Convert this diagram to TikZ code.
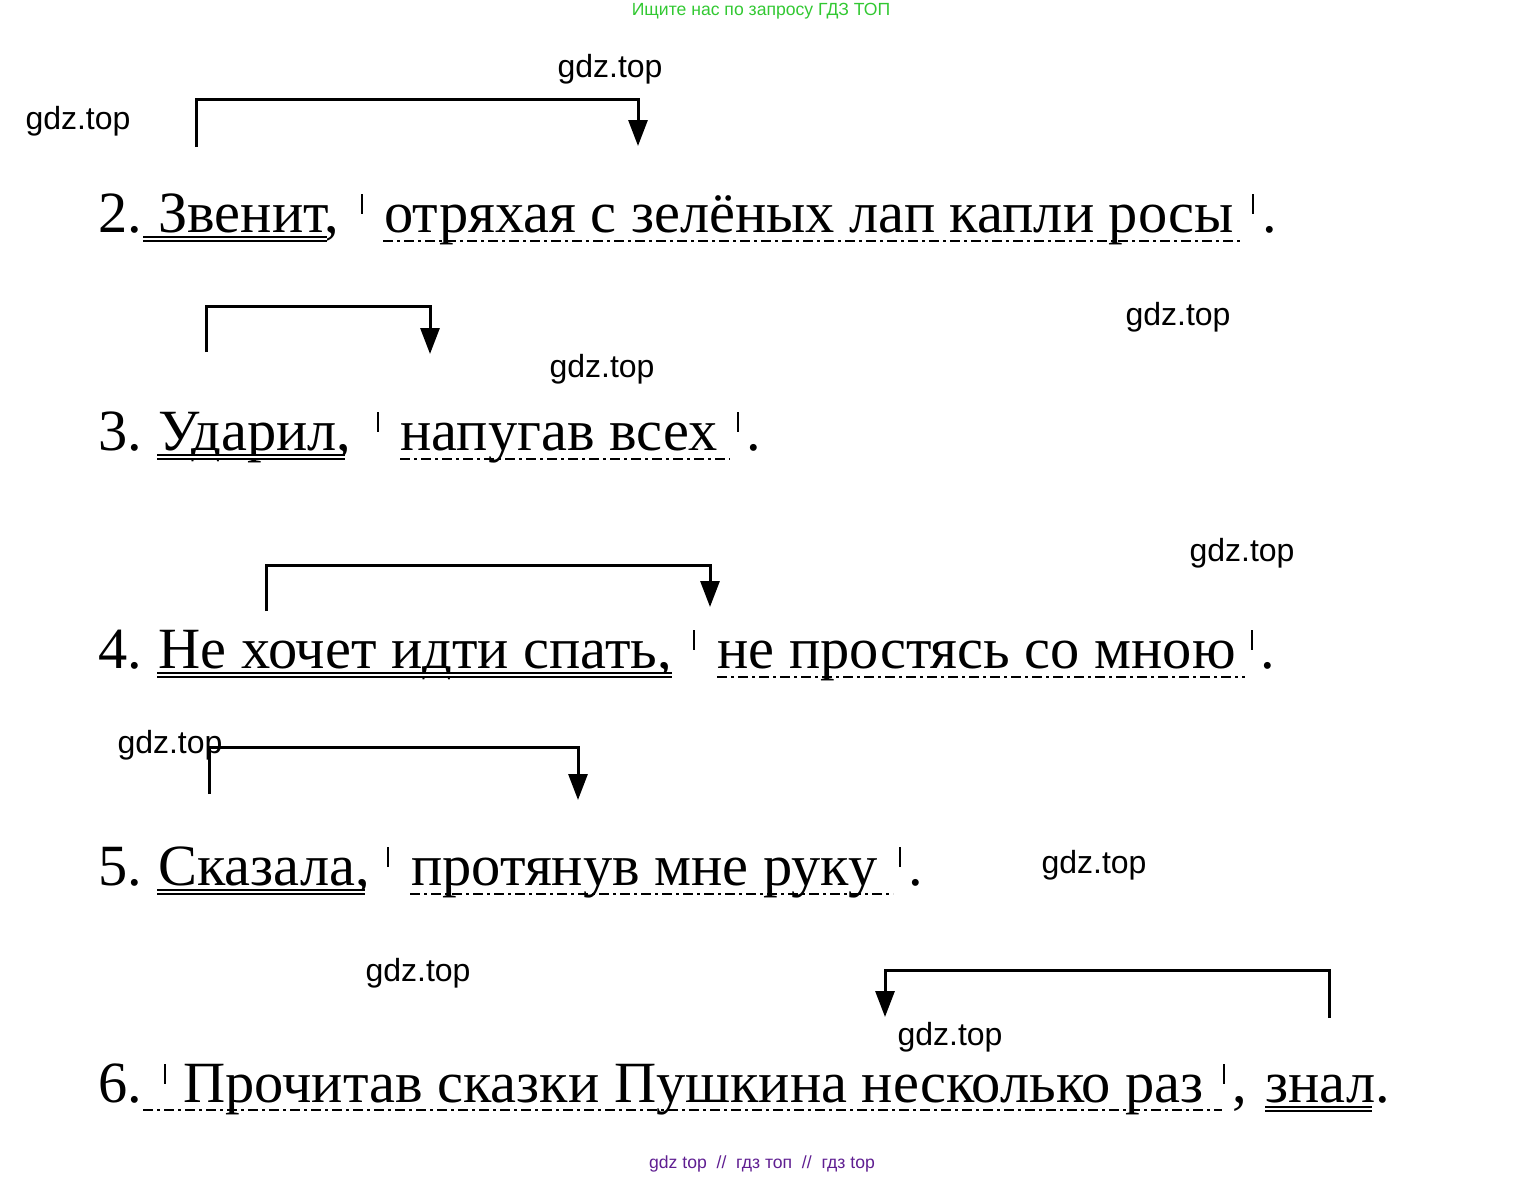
\documentclass[tikz,border=0pt]{standalone}
\usepackage{fontspec}
\setmainfont{Liberation Serif}
\newfontfamily\wmfont{Liberation Sans}
\usetikzlibrary{arrows.meta}
\definecolor{wmgreen}{RGB}{50,200,50}
\definecolor{wmpurple}{RGB}{95,30,145}
\tikzset{
  sent/.style={anchor=base west,inner sep=0pt,font=\fontsize{29.2}{33}\selectfont},
  wmark/.style={inner sep=0pt,font=\wmfont\fontsize{16}{18}\selectfont},
  subj/.style={double,double distance=1pt,line width=.9pt},
  adv/.style={line width=1.4pt,dash pattern=on 5pt off 2pt on 1.5pt off 2pt},
  sep/.style={line width=.8pt},
  scheme/.style={line width=1.5pt,-{Triangle[length=13pt,width=9.5pt]}}
}
\begin{document}
\begin{tikzpicture}[x=.5pt,y=-.5pt]
\useasboundingbox (0,0) rectangle (1524,1178);
\node[inner sep=0pt,text=wmgreen,font=\wmfont\fontsize{8.8}{10}\selectfont] (top) at (761,11){Ищите нас по запросу ГДЗ ТОП};
\node[inner sep=0pt,text=wmpurple,font=\wmfont\fontsize{8.8}{10}\selectfont] (bot) at (762,1164){gdz top \ // \ гдз топ \ // \ гдз top};
\foreach \x/\y [count=\i] in {78/121,610/69,1178/317,602/369,1242/553,170/745,1094/865,418/973,950/1037}
  \node[wmark] (w\i) at (\x,\y){gdz.top};

% 2
\node[sent] (n2) at (98,232){2.};
\node[sent] (s2) at (158,232){Звенит,};
\node[sent] (a2) at (384,232){отряхая с зелёных лап капли росы};
\node[sent] (p2) at (1262,232){.};
\draw[subj] (143,239)--(327,239);
\draw[adv] (383,241)--(1243,241);
\draw[sep] (362,194)--(362,214);
\draw[sep] (1253,194)--(1253,214);
\coordinate (b2) at (196,147);
\coordinate (e2) at (638,146);
\draw[scheme] (b2)|-(e2 |- 0,99)--(e2);

% 3
\node[sent] (n3) at (98,450){3.};
\node[sent] (s3) at (158,450){Ударил,};
\node[sent] (a3) at (400,450){напугав всех};
\node[sent] (p3) at (746,450){.};
\draw[subj] (157,457)--(345,457);
\draw[adv] (400,459)--(730,459);
\draw[sep] (378,412)--(378,432);
\draw[sep] (738,412)--(738,432);
\coordinate (b3) at (206,352);
\coordinate (e3) at (430,354);
\draw[scheme] (b3)|-(e3 |- 0,306)--(e3);

% 4
\node[sent] (n4) at (98,668){4.};
\node[sent] (s4) at (158,668){Не хочет идти спать,};
\node[sent] (a4) at (717,668){не простясь со мною};
\node[sent] (p4) at (1260,668){.};
\draw[subj] (157,675)--(672,675);
\draw[adv] (717,677)--(1245,677);
\draw[sep] (694,630)--(694,650);
\draw[sep] (1252,630)--(1252,650);
\coordinate (b4) at (266,611);
\coordinate (e4) at (710,607);
\draw[scheme] (b4)|-(e4 |- 0,565)--(e4);

% 5
\node[sent] (n5) at (98,885){5.};
\node[sent] (s5) at (158,885){Сказала,};
\node[sent] (a5) at (411,885){протянув мне руку};
\node[sent] (p5) at (908,885){.};
\draw[subj] (157,892)--(365,892);
\draw[adv] (410,894)--(893,894);
\draw[sep] (388,847)--(388,867);
\draw[sep] (900,847)--(900,867);
\coordinate (b5) at (209,794);
\coordinate (e5) at (578,800);
\draw[scheme] (b5)|-(e5 |- 0,747)--(e5);

% 6
\node[sent] (n6) at (98,1102){6.};
\node[sent] (a6) at (183,1102){Прочитав сказки Пушкина несколько раз};
\node[sent] (c6) at (1232,1102){,};
\node[sent] (s6) at (1265,1102){знал};
\node[sent] (p6) at (1375,1102){.};
\draw[adv] (143,1110)--(1222,1110);
\draw[subj] (1265,1109)--(1372,1109);
\draw[sep] (165,1064)--(165,1084);
\draw[sep] (1224,1064)--(1224,1084);
\coordinate (b6) at (1329,1018);
\coordinate (e6) at (885,1017);
\draw[scheme] (b6)|-(e6 |- 0,970)--(e6);
\end{tikzpicture}
\end{document}
